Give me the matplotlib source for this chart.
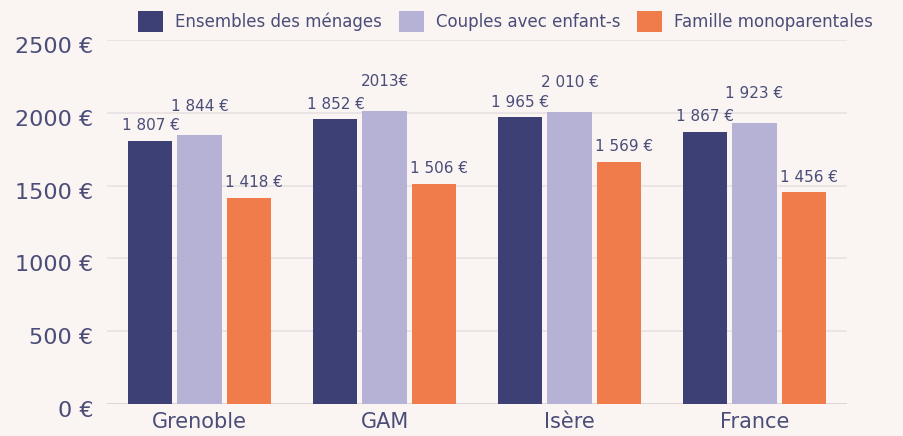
import matplotlib.pyplot as plt
import matplotlib.transforms as mtransforms
import numpy as np

categories = ["Grenoble", "GAM", "Isère", "France"]
series = ["Ensembles des ménages", "Couples avec enfant-s", "Famille monoparentales"]
# bar heights as drawn in the picture
menages = [1808, 1955, 1969, 1870]
couples = [1846, 2012, 2008, 1932]
monoparentales = [1417, 1511, 1664, 1454]
# labels as printed on the picture
labels_menages = ["1 807 €", "1 852 €", "1 965 €", "1 867 €"]
labels_couples = ["1 844 €", "2013€", "2 010 €", "1 923 €"]
labels_mono = ["1 418 €", "1 506 €", "1 569 €", "1 456 €"]
yticks = [0, 500, 1000, 1500, 2000, 2500]

bg = "#faf4f3"
text_col = "#4a4d78"
colors = ["#3c4075", "#b5b2d5", "#f07c4c"]

plt.rcParams['font.family'] = ['DejaVu Sans']

fig = plt.figure(figsize=(9.04, 4.36), dpi=100, facecolor=bg)
ax = fig.add_axes([107/904, 32/436, 740/904, 364/436], facecolor=bg)

x = np.arange(len(categories))
w = 0.238
step = 0.265
data = [menages, couples, monoparentales]
labels = [labels_menages, labels_couples, labels_mono]
offsets = [(0, 11), (0, 21), (4, 11)]

bars = []
for i in range(3):
    b = ax.bar(x + (i - 1) * step, data[i], width=w, color=colors[i], label=series[i], zorder=3)
    bars.append(b)
    for rect, lab in zip(b, labels[i]):
        ax.annotate(lab, (rect.get_x() + rect.get_width() / 2, rect.get_height()),
                    xytext=offsets[i], textcoords="offset points",
                    ha="center", va="center", fontsize=11, color=text_col)

ax.set_xlim(-0.5, 3.5)
ax.set_ylim(0, 2500)
ax.set_yticks(yticks)
ax.set_yticklabels([f"{v} €" for v in yticks])
ax.set_xticks(x)
ax.set_xticklabels(categories)
ax.tick_params(axis="y", length=0, pad=10, labelsize=16, labelcolor=text_col)
ax.tick_params(axis="x", length=0, pad=6, labelsize=15, labelcolor=text_col)
ax.grid(axis="y", color="#e8e1e2", linewidth=1.2, zorder=0)
ax.axhline(0, color="#ddd5d6", linewidth=1.4, zorder=1)
ax.set_axisbelow(True)
for s in ax.spines.values():
    s.set_visible(False)

# tick labels sit a little below their gridlines in the original
shift = mtransforms.ScaledTranslation(0, -0.05, fig.dpi_scale_trans)
for t in ax.get_yticklabels():
    t.set_transform(t.get_transform() + shift)

leg = ax.legend(handles=bars, loc="upper left", bbox_to_anchor=(138/904, 1 - 11/436),
                bbox_transform=fig.transFigure, ncol=3, frameon=False, fontsize=12,
                handlelength=1.5, handleheight=1.6, handletextpad=0.72,
                columnspacing=1.0, borderpad=0, borderaxespad=0)
for t in leg.get_texts():
    t.set_color(text_col)

fig.savefig("out.png", dpi=100, facecolor=bg)
